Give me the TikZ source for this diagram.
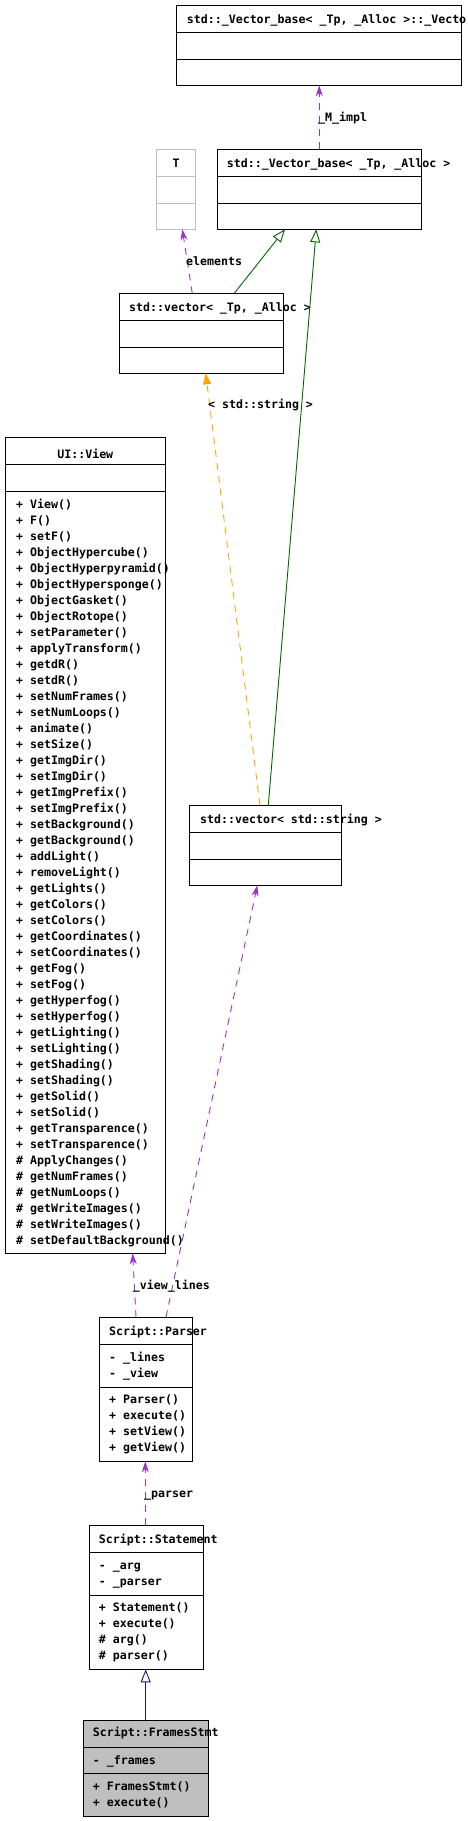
\documentclass[tikz,border=0pt]{standalone}
\usepackage{fontspec}
\setmonofont{DejaVu Sans Mono}
\usetikzlibrary{arrows.meta}
\definecolor{dpurple}{RGB}{154,50,205}
\definecolor{dgreen}{RGB}{0,100,0}
\definecolor{dnavy}{RGB}{25,25,112}
\definecolor{dorange}{RGB}{255,165,0}
\definecolor{dgray}{RGB}{191,191,191}
\newcommand\mkbox[8][black]{%
  \node[cls, draw=#1, minimum width=#5pt, minimum height=#6pt] (#2) at (#3,#4) {};
  \draw[dv, draw=#1] (#2.west |- 0,#7) -- (#2.east |- 0,#7);
  \draw[dv, draw=#1] (#2.west |- 0,#8) -- (#2.east |- 0,#8);
}
\begin{document}
\begin{tikzpicture}[x=1pt,y=-1pt,
  cls/.style={line width=0.9pt, inner sep=0pt, outer sep=0pt, anchor=north west},
  dv/.style={line width=0.9pt},
  txt/.style={font=\ttfamily\bfseries\fontsize{11.6}{14}\selectfont, inner sep=0pt, anchor=base west},
  usage/.style={draw=dpurple, line width=0.9pt, dash pattern=on 7pt off 6pt, -{Stealth[length=11pt,width=7pt]}},
  tmpl/.style={draw=dorange, line width=0.9pt, dash pattern=on 7pt off 6pt, -{Triangle[length=11pt,width=8pt,fill=dorange]}},
  inhg/.style={draw=dgreen, line width=0.9pt, -{Triangle[open,length=13pt,width=10pt]}},
  inhn/.style={draw=dnavy, line width=0.9pt, -{Triangle[open,length=13pt,width=10pt]}}
]
\useasboundingbox (0,0) rectangle (467,1821);

% boxes
\mkbox{impl}{176}{5.3}{285.3}{80}{32.7}{59.3}
\mkbox[dgray]{tbox}{156.7}{149.3}{38.6}{80}{176.3}{203.3}
\mkbox{vbase}{217.3}{149.3}{204}{80}{176.3}{203.3}
\mkbox{vec}{119.3}{293.3}{164}{80}{320.3}{347.3}
\mkbox{view}{5.3}{437.3}{160}{816}{464.3}{491.3}
\mkbox{vstr}{189.3}{805.3}{152}{80}{832.3}{859.3}
\mkbox{parser}{99.3}{1317.3}{93}{144}{1344.3}{1387.3}
\mkbox{stmt}{89.3}{1525.3}{114}{144}{1552.3}{1595.3}
\node[cls, draw=black, fill=dgray, minimum width=125pt, minimum height=95.7pt] (frames) at (83.3,1720.3) {};
\draw[dv] (frames.west |- 0,1747.3) -- (frames.east |- 0,1747.3);
\draw[dv] (frames.west |- 0,1773.3) -- (frames.east |- 0,1773.3);

% titles
\node[txt] (timpl) at (186.7,23) {std::\_Vector\_base< \_Tp, \_Alloc >::\_Vecto};
\node[txt, anchor=base] (tt) at (176,167) {T};
\node[txt] (tvbase) at (226.7,167) {std::\_Vector\_base< \_Tp, \_Alloc >};
\node[txt] (tvec) at (129,311.3) {std::vector< \_Tp, \_Alloc >};
\node[txt, anchor=base] (tview) at (85.3,458) {UI::View};
\node[txt] (tvstr) at (200,823.3) {std::vector< std::string >};
\node[txt] (tparser) at (109,1335) {Script::Parser};
\node[txt] (tstmt) at (98.7,1543) {Script::Statement};
\node[txt] (tframes) at (92.7,1736.7) {Script::FramesStmt};

% UI::View members
\foreach \m [count=\i from 0] in {%
+ View(), + F(), + setF(), + ObjectHypercube(), + ObjectHyperpyramid(),
+ ObjectHypersponge(), + ObjectGasket(), + ObjectRotope(), + setParameter(),
+ applyTransform(), + getdR(), + setdR(), + setNumFrames(), + setNumLoops(),
+ animate(), + setSize(), + getImgDir(), + setImgDir(), + getImgPrefix(),
+ setImgPrefix(), + setBackground(), + getBackground(), + addLight(),
+ removeLight(), + getLights(), + getColors(), + setColors(),
+ getCoordinates(), + setCoordinates(), + getFog(), + setFog(),
+ getHyperfog(), + setHyperfog(), + getLighting(), + setLighting(),
+ getShading(), + setShading(), + getSolid(), + setSolid(),
+ getTransparence(), + setTransparence(), \# ApplyChanges(),
\# getNumFrames(), \# getNumLoops(), \# getWriteImages(),
\# setWriteImages(), \# setDefaultBackground()}
  \node[txt] (vm\i) at (16,{508+16*\i}) {\m};

% Parser members
\node[txt] (pa1) at (109,1361) {- \_lines};
\node[txt] (pa2) at (109,1377) {- \_view};
\node[txt] (pm1) at (109,1403.3) {+ Parser()};
\node[txt] (pm2) at (109,1419.3) {+ execute()};
\node[txt] (pm3) at (109,1435.3) {+ setView()};
\node[txt] (pm4) at (109,1451.3) {+ getView()};

% Statement members
\node[txt] (sa1) at (98.7,1569) {- \_arg};
\node[txt] (sa2) at (98.7,1585) {- \_parser};
\node[txt] (sm1) at (98.7,1611.7) {+ Statement()};
\node[txt] (sm2) at (98.7,1627.7) {+ execute()};
\node[txt] (sm3) at (98.7,1643.7) {\# arg()};
\node[txt] (sm4) at (98.7,1659.7) {\# parser()};

% FramesStmt members
\node[txt] (fa1) at (92.7,1764) {- \_frames};
\node[txt] (fm1) at (92.7,1790.7) {+ FramesStmt()};
\node[txt] (fm2) at (92.7,1806.7) {+ execute()};

% connectors
\draw[usage] (vbase.north -| 319.3,0) -- (impl.south -| 319.3,0);
\node[txt] (lmimpl) at (318,121) {\_M\_impl};

\draw[usage] (vec.north -| 192.3,0) -- (tbox.south -| 182.3,0);
\node[txt] (lelem) at (186,265) {elements};

\draw[inhg] (vec.north -| 234.3,0) -- (vbase.south -| 285,0);
\draw[inhg] (vstr.north -| 268.3,0) -- (vbase.south -| 316.3,0);

\draw[tmpl] (vstr.north -| 260,0) -- (vec.south -| 205.7,0);
\node[txt] (ltmpl) at (208,408.7) {< std::string >};

\draw[usage] (parser.north -| 136,0) -- (view.south -| 132.7,0);
\node[txt] (lview) at (132.7,1289) {\_view};
\draw[usage] (parser.north -| 166,0) -- (vstr.south -| 257.3,0);
\node[txt] (llines) at (167.7,1289) {\_lines};

\draw[usage] (stmt.north -| 145.3,0) -- (parser.south -| 145.3,0);
\node[txt] (lparser) at (144,1497) {\_parser};

\draw[inhn] (frames.north -| 145.7,0) -- (stmt.south -| 145.7,0);
\end{tikzpicture}
\end{document}
